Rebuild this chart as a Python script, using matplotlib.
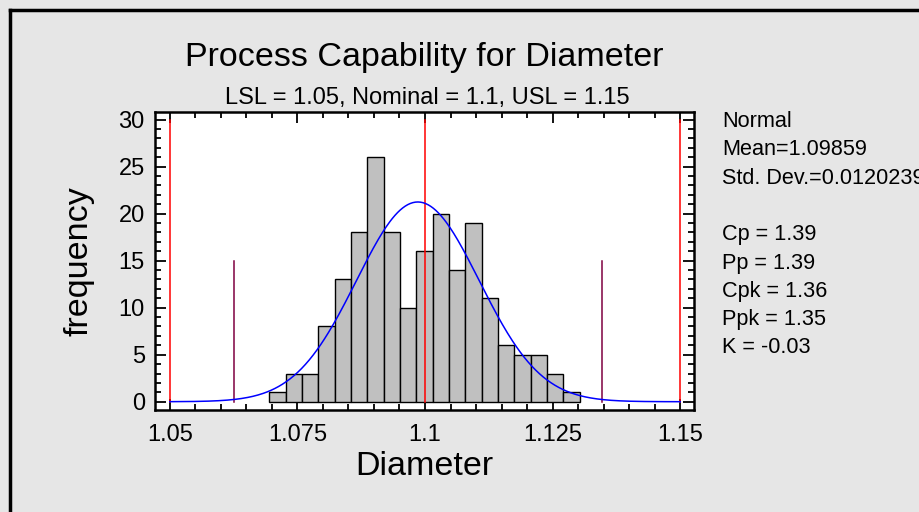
import numpy as np
import matplotlib
matplotlib.use("Agg")
import matplotlib.pyplot as plt
from matplotlib.lines import Line2D
from matplotlib.ticker import MultipleLocator

plt.rcParams['font.family'] = ['Liberation Sans', 'DejaVu Sans']

# ---- data ----
counts = [1, 3, 3, 8, 13, 18, 26, 18, 10, 16, 20, 14, 19, 11, 6, 5, 5, 3, 1]
bin_start = 1.0695
bin_width = 0.0032
lsl, nominal, usl = 1.05, 1.1, 1.15
mean = 1.09859
std = 0.0120239
stats_lines = ["Normal", "Mean=1.09859", "Std. Dev.=0.0120239", "",
               "Cp = 1.39", "Pp = 1.39", "Cpk = 1.36", "Ppk = 1.35", "K = -0.03"]
xticks = [1.05, 1.075, 1.1, 1.125, 1.15]
xticklabels = ["1.05", "1.075", "1.1", "1.125", "1.15"]
yticks = [0, 5, 10, 15, 20, 25, 30]

bg = '#E6E6E6'
fig = plt.figure(figsize=(9.19, 5.12), dpi=100, facecolor=bg)
ax = fig.add_axes([154.5/919, 1-410/512, (694-154.5)/919, (410-112)/512])
ax.set_facecolor('white')

edges = bin_start + bin_width*np.arange(len(counts))
ax.bar(edges, counts, width=bin_width, align='edge', color='#C0C0C0',
       edgecolor='black', linewidth=1.0, zorder=2)

# fitted normal curve
n = sum(counts)
xs = np.linspace(lsl, usl, 400)
ys = n*bin_width*np.exp(-0.5*((xs-mean)/std)**2)/(std*np.sqrt(2*np.pi))
ax.plot(xs, ys, color='#0000FF', linewidth=1.1, zorder=4)

# spec lines
for v in (lsl, nominal, usl):
    ax.plot([v, v], [0, 30], color='#FF0000', linewidth=1.1, zorder=3)
for v in (mean-3*std, mean+3*std):
    ax.plot([v, v], [0, 15], color='#7F0040', linewidth=1.1, zorder=3)

ax.set_xlim(1.047, 1.1527)
ax.set_ylim(-0.88, 30.8)
ax.set_xticks(xticks)
ax.set_xticklabels(xticklabels)
ax.set_yticks(yticks)
ax.xaxis.set_minor_locator(MultipleLocator(0.005))
ax.yaxis.set_minor_locator(MultipleLocator(1))
ax.tick_params(which='both', direction='in', top=True, right=True,
               labelsize=17, width=1.3, color='black')
ax.tick_params(which='major', length=8)
ax.tick_params(axis='x', which='major', pad=10)
ax.tick_params(axis='y', which='major', pad=7)
ax.tick_params(which='minor', length=4)
for s in ax.spines.values():
    s.set_linewidth(1.8)

ax.set_xlabel("Diameter", fontsize=24.5, labelpad=4)
ax.set_ylabel("frequency", fontsize=24.5, labelpad=17)

fig.text(424/919, 1-66/512, "Process Capability for Diameter", fontsize=24.5,
         ha='center', va='baseline')
fig.text(427/919, 1-104/512, "LSL = 1.05, Nominal = 1.1, USL = 1.15", fontsize=17,
         ha='center', va='baseline')

y0 = 127
for i, line in enumerate(stats_lines):
    fig.text(722/919, 1-(y0 + i*28.3)/512, line, fontsize=15.6, ha='left', va='baseline')

# border (top and left)
fig.add_artist(Line2D([10/919, 10/919], [0, 1-10/512], transform=fig.transFigure,
                      color='black', linewidth=2.5))
fig.add_artist(Line2D([10/919, 1], [1-10/512, 1-10/512], transform=fig.transFigure,
                      color='black', linewidth=2.5))

fig.savefig("out.png", dpi=100, facecolor=bg)
